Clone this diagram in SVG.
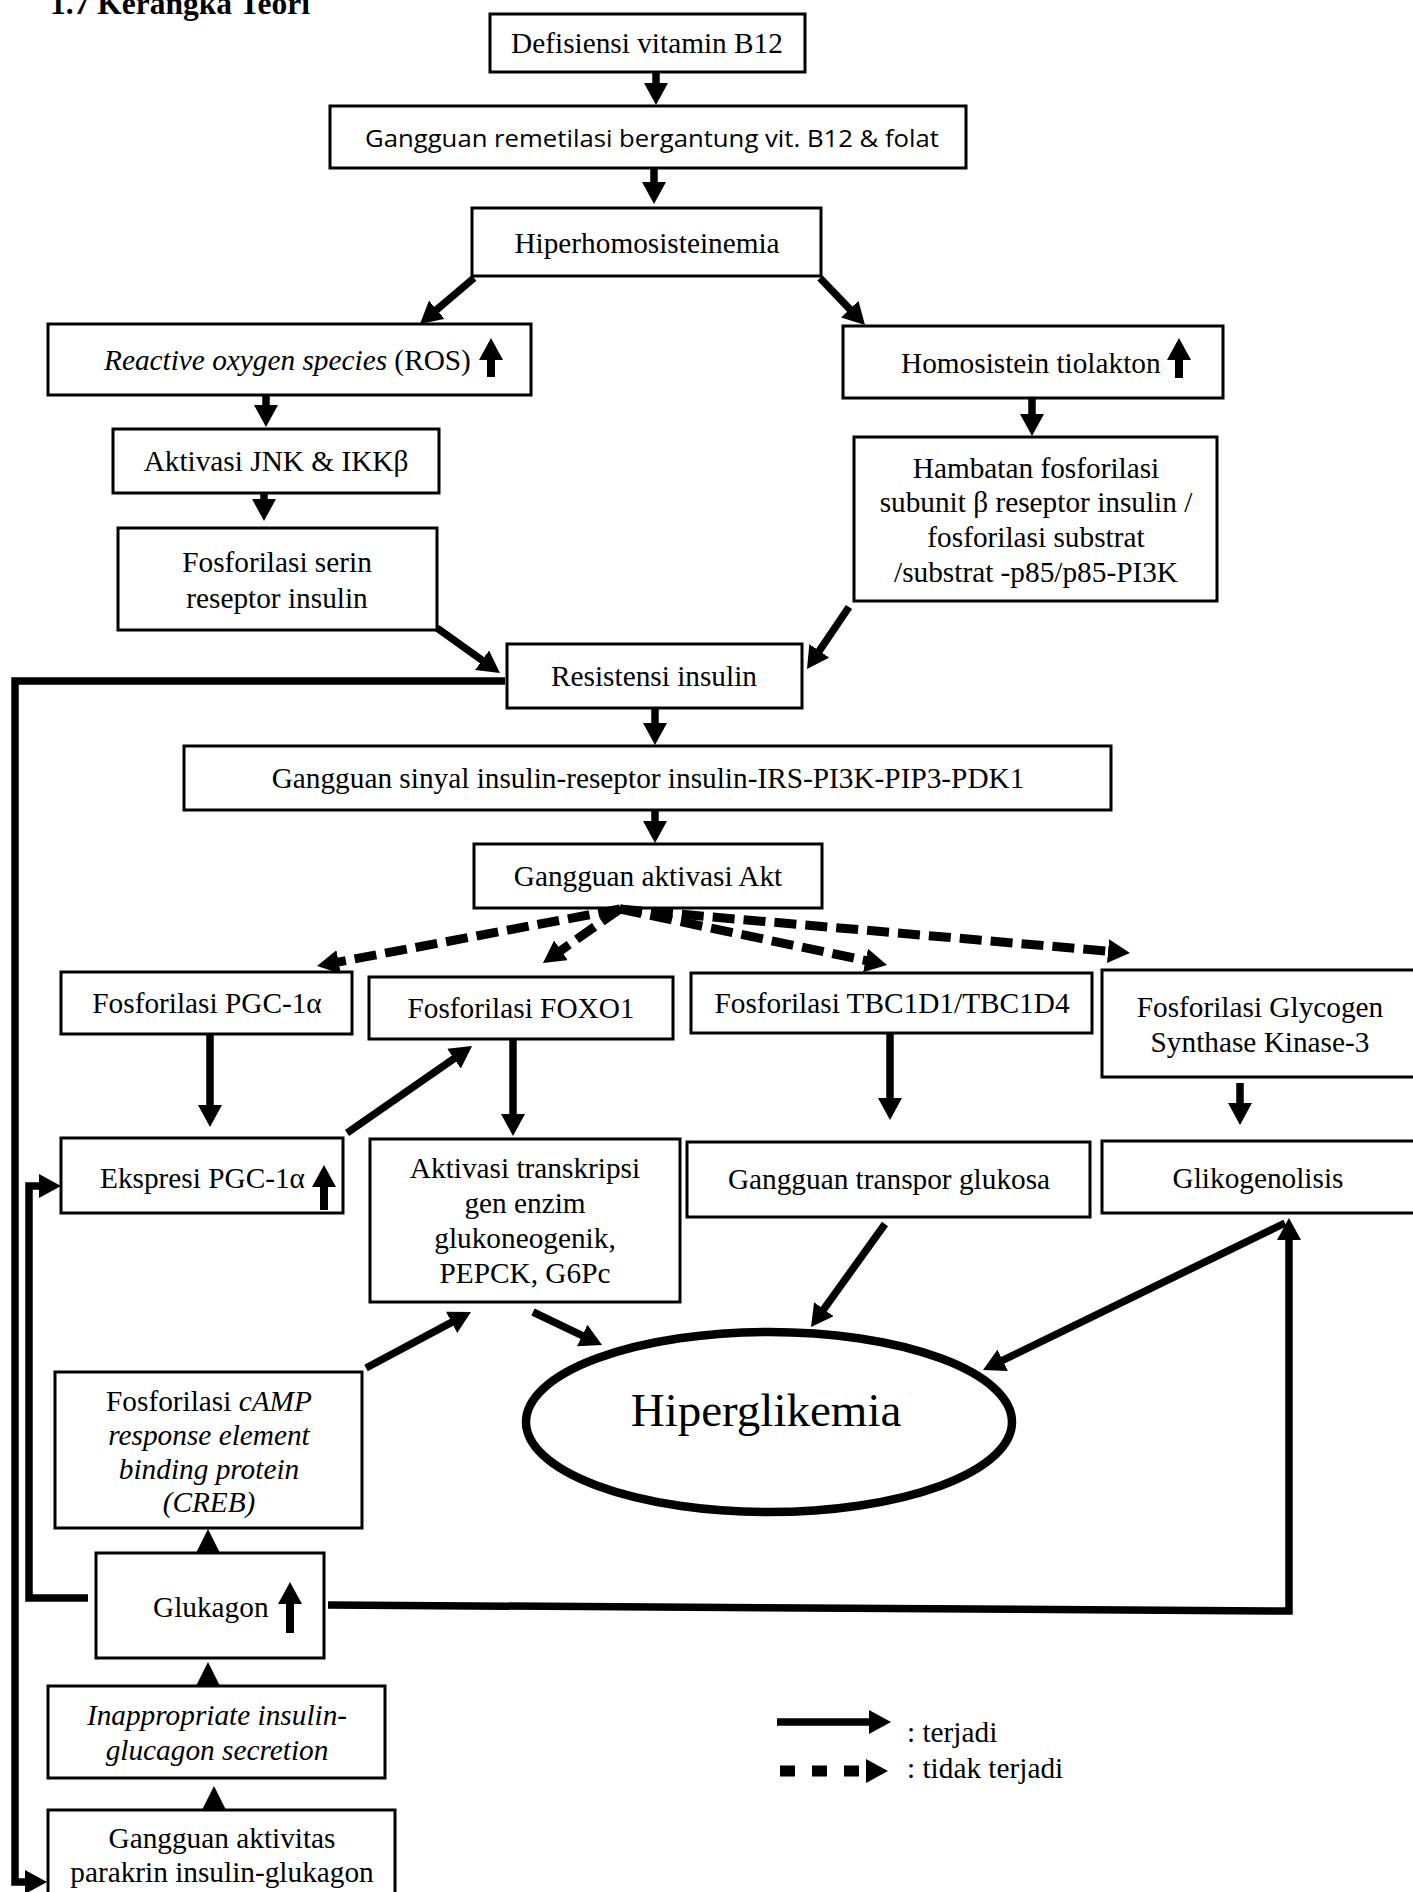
<svg xmlns="http://www.w3.org/2000/svg" width="1413" height="1892" viewBox="0 0 1413 1892">
  <style>
    .box { fill: #fff; stroke: #000; stroke-width: 3; }
    .t { font-family: "Liberation Serif", "Times New Roman", serif; font-size: 29.3px; fill: #000; text-anchor: middle; }
    .ts { text-anchor: start; }
    .i { font-style: italic; }
    .big { font-size: 47px; }
    .sans { font-family: "Open Sans", "Noto Sans", sans-serif; font-size: 24px; fill: #000; }
    .c { fill: none; stroke: #000; stroke-width: 7.5; marker-end: url(#ah); }
    .d { fill: none; stroke: #000; stroke-width: 9; stroke-dasharray: 22 9; marker-end: url(#ah); }
    .up { fill: none; stroke: #000; stroke-width: 8; marker-end: url(#ah); }
    .head { fill: #000; }
  </style>
  <defs>
    <marker id="ah" markerUnits="userSpaceOnUse" markerWidth="22" markerHeight="24" refX="10" refY="12" orient="auto">
      <path d="M0,0 L22,12 L0,24 z" fill="#000"/>
    </marker>
  </defs>

  <rect width="1413" height="1892" fill="#fff"/>

  <g id="title">
    <text x="50" y="14" font-family="Liberation Serif, Times New Roman, serif" font-size="31.5" font-weight="bold">1.7 Kerangka Teori</text>
  </g>

  <g id="nodes">
    <g id="n-defisiensi">
      <rect class="box" x="490" y="14" width="315" height="58"/>
      <text class="t" x="647" y="53">Defisiensi vitamin B12</text>
    </g>
    <g id="n-remetilasi">
      <rect class="box" x="330" y="106" width="636" height="62"/>
      <text class="sans" x="365" y="147" textLength="574" lengthAdjust="spacingAndGlyphs">Gangguan remetilasi bergantung vit. B12 &amp; folat</text>
    </g>
    <g id="n-hiperhomosisteinemia">
      <rect class="box" x="472" y="208" width="349" height="68"/>
      <text class="t" x="647" y="253">Hiperhomosisteinemia</text>
    </g>
    <g id="n-ros">
      <rect class="box" x="48" y="324" width="483" height="71"/>
      <text class="t ts" x="104" y="370"><tspan class="i">Reactive oxygen species</tspan> (ROS)</text>
      <line class="up" x1="491" y1="377" x2="491" y2="350"/>
    </g>
    <g id="n-tiolakton">
      <rect class="box" x="843" y="326" width="380" height="72"/>
      <text class="t ts" x="901" y="373">Homosistein tiolakton</text>
      <line class="up" x1="1179" y1="378" x2="1179" y2="350"/>
    </g>
    <g id="n-jnk">
      <rect class="box" x="113" y="429" width="326" height="64"/>
      <text class="t" x="276" y="471">Aktivasi JNK &amp; IKKβ</text>
    </g>
    <g id="n-serin">
      <rect class="box" x="118" y="528" width="319" height="102"/>
      <text class="t" x="277" y="572">Fosforilasi serin</text>
      <text class="t" x="277" y="608">reseptor insulin</text>
    </g>
    <g id="n-hambatan">
      <rect class="box" x="854" y="437" width="363" height="164"/>
      <text class="t" x="1036" y="478">Hambatan fosforilasi</text>
      <text class="t" x="1036" y="512">subunit β reseptor insulin /</text>
      <text class="t" x="1036" y="547">fosforilasi substrat</text>
      <text class="t" x="1036" y="582">/substrat -p85/p85-PI3K</text>
    </g>
    <g id="n-resistensi">
      <rect class="box" x="507" y="644" width="295" height="64"/>
      <text class="t" x="654" y="686">Resistensi insulin</text>
    </g>
    <g id="n-sinyal">
      <rect class="box" x="184" y="746" width="927" height="64"/>
      <text class="t" x="648" y="788">Gangguan sinyal insulin-reseptor insulin-IRS-PI3K-PIP3-PDK1</text>
    </g>
    <g id="n-akt">
      <rect class="box" x="474" y="844" width="348" height="64"/>
      <text class="t" x="648" y="886">Gangguan aktivasi Akt</text>
    </g>
    <g id="n-pgc">
      <rect class="box" x="61" y="972" width="291" height="62"/>
      <text class="t" x="207" y="1013">Fosforilasi PGC-1α</text>
    </g>
    <g id="n-foxo1">
      <rect class="box" x="369" y="977" width="304" height="62"/>
      <text class="t" x="521" y="1018">Fosforilasi FOXO1</text>
    </g>
    <g id="n-tbc">
      <rect class="box" x="691" y="973" width="401" height="60"/>
      <text class="t" x="892" y="1013">Fosforilasi TBC1D1/TBC1D4</text>
    </g>
    <g id="n-gsk3">
      <rect class="box" x="1102" y="970" width="320" height="107"/>
      <text class="t" x="1260" y="1017">Fosforilasi Glycogen</text>
      <text class="t" x="1260" y="1052">Synthase Kinase-3</text>
    </g>
    <g id="n-ekspresi">
      <rect class="box" x="61" y="1138" width="282" height="75"/>
      <text class="t ts" x="100" y="1188">Ekspresi PGC-1α</text>
      <line class="up" x1="324" y1="1210" x2="324" y2="1177"/>
    </g>
    <g id="n-transkripsi">
      <rect class="box" x="370" y="1139" width="310" height="163"/>
      <text class="t" x="525" y="1178">Aktivasi transkripsi</text>
      <text class="t" x="525" y="1213">gen enzim</text>
      <text class="t" x="525" y="1248">glukoneogenik,</text>
      <text class="t" x="525" y="1283">PEPCK, G6Pc</text>
    </g>
    <g id="n-transpor">
      <rect class="box" x="687" y="1142" width="403" height="75"/>
      <text class="t" x="889" y="1189">Gangguan transpor glukosa</text>
    </g>
    <g id="n-glikogenolisis">
      <rect class="box" x="1102" y="1141" width="320" height="72"/>
      <text class="t" x="1258" y="1188">Glikogenolisis</text>
    </g>
    <g id="n-hiperglikemia">
      <ellipse cx="769" cy="1422" rx="243" ry="90" fill="#fff" stroke="#000" stroke-width="8.5"/>
      <text class="t big" x="766" y="1426">Hiperglikemia</text>
    </g>
    <g id="n-creb">
      <rect class="box" x="55" y="1372" width="307" height="156"/>
      <text class="t" x="209" y="1411">Fosforilasi <tspan class="i">cAMP</tspan></text>
      <text class="t i" x="209" y="1445">response element</text>
      <text class="t i" x="209" y="1479">binding protein</text>
      <text class="t i" x="209" y="1512">(CREB)</text>
    </g>
    <g id="n-glukagon">
      <rect class="box" x="96" y="1553" width="228" height="105"/>
      <text class="t ts" x="153" y="1617">Glukagon</text>
      <line class="up" x1="290" y1="1633" x2="290" y2="1594"/>
    </g>
    <g id="n-inappropriate">
      <rect class="box" x="48" y="1686" width="337" height="92"/>
      <text class="t i" x="217" y="1725">Inappropriate insulin-</text>
      <text class="t i" x="217" y="1760">glucagon secretion</text>
    </g>
    <g id="n-parakrin">
      <rect class="box" x="48" y="1810" width="347" height="100"/>
      <text class="t" x="222" y="1848">Gangguan aktivitas</text>
      <text class="t" x="222" y="1882">parakrin insulin-glukagon</text>
    </g>
  </g>

  <g id="connectors">
    <!-- main vertical chain -->
    <line class="c" x1="656" y1="72" x2="656" y2="93"/>
    <line class="c" x1="654" y1="168" x2="654" y2="192"/>
    <line class="c" x1="474" y1="278" x2="429.1" y2="316.2"/>
    <line class="c" x1="820" y1="278" x2="856.7" y2="316.3"/>
    <line class="c" x1="266" y1="395" x2="266" y2="415"/>
    <line class="c" x1="264" y1="493" x2="264" y2="509"/>
    <line class="c" x1="1032" y1="398" x2="1032" y2="424"/>
    <line class="c" x1="437" y1="628" x2="490.2" y2="666"/>
    <line class="c" x1="849" y1="607" x2="813.7" y2="659.1"/>
    <line class="c" x1="655" y1="708" x2="655" y2="733"/>
    <line class="c" x1="655" y1="810" x2="655" y2="831"/>

    <!-- Akt branches that do not occur -->
    <line class="d" x1="620" y1="909" x2="328.8" y2="963.8"/>
    <line class="d" x1="620" y1="909" x2="552.8" y2="956.1"/>
    <line class="d" x1="620" y1="909" x2="875.3" y2="962.5"/>
    <line class="d" x1="620" y1="909" x2="1118" y2="952"/>

    <!-- second row to third row -->
    <line class="c" x1="210" y1="1034" x2="210" y2="1115"/>
    <line class="c" x1="513" y1="1039" x2="513" y2="1124"/>
    <line class="c" x1="890" y1="1033" x2="890" y2="1108"/>
    <line class="c" x1="1240" y1="1083" x2="1240" y2="1113"/>
    <line class="c" x1="347" y1="1133" x2="462.2" y2="1052.9"/>

    <!-- into hyperglycaemia -->
    <line class="c" x1="885" y1="1224" x2="818" y2="1317.3"/>
    <line class="c" x1="533" y1="1312" x2="591.2" y2="1339.8"/>
    <line class="c" x1="366" y1="1368" x2="460.4" y2="1317.6"/>
    <line class="c" x1="1285" y1="1223" x2="993.8" y2="1364.7"/>

    <!-- glucagon to glycogenolysis -->
    <polyline class="c" points="328,1605 1289,1611 1289,1230"/>

    <!-- insulin resistance loop down the left margin -->
    <polyline class="c" points="505,681 15,681 15,1882 35,1882"/>
    <polyline class="c" points="88,1598 29,1598 29,1186 49,1186"/>

    <!-- short upward heads in the left column -->
    <polygon class="head" points="208,1529 196.5,1552 219.5,1552"/>
    <polygon class="head" points="208,1662 196.5,1685 219.5,1685"/>
    <polygon class="head" points="214,1786 202.5,1809 225.5,1809"/>
  </g>

  <g id="legend">
    <line class="c" x1="777" y1="1722" x2="879" y2="1722"/>
    <text class="t ts" x="907" y="1742">: terjadi</text>
    <line fill="none" stroke="#000" stroke-width="11" stroke-dasharray="15 17" marker-end="url(#ah)" x1="780" y1="1771" x2="876" y2="1771"/>
    <text class="t ts" x="907" y="1778">: tidak terjadi</text>
  </g>
</svg>
